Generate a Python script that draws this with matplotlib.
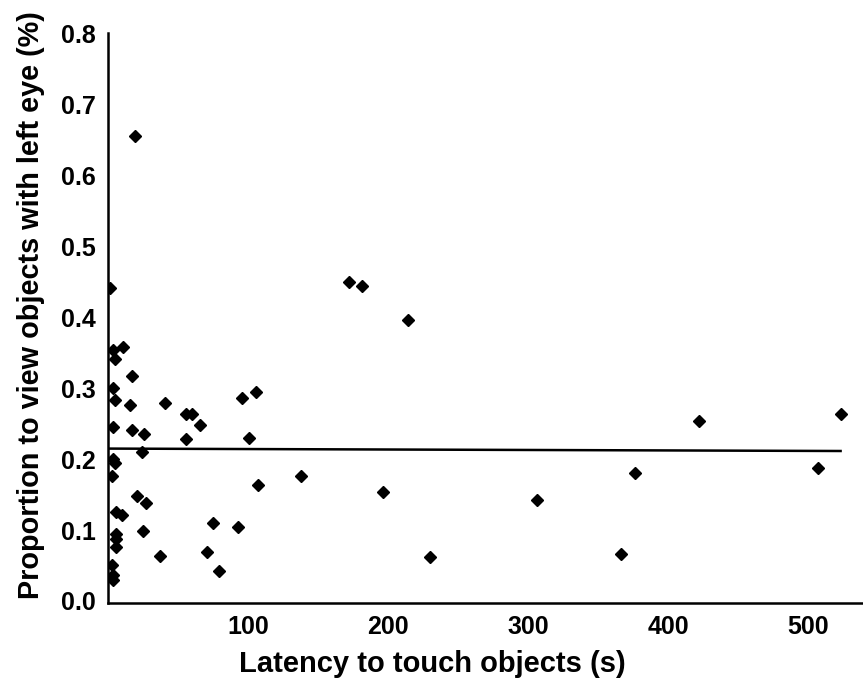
import matplotlib
matplotlib.use("Agg")
import matplotlib.pyplot as plt
import numpy as np

# latency to touch objects (s) vs proportion viewed with left eye
latency = [19, 1.4, 3.8, 11, 5, 17, 3.8, 5, 16, 41, 56, 60, 66, 95.5, 105.5,
           3.8, 17, 26, 56, 100.7, 24, 3.8, 5, 2.6, 107, 20.5, 27, 6, 10, 75,
           93, 25, 5.5, 6, 6, 37, 70.5, 79.5, 2.6, 3.8, 3.8,
           172, 181, 214, 138, 196, 230, 306, 422, 523, 376, 507, 366]
prop_left = [0.656, 0.441, 0.354, 0.358, 0.342, 0.318, 0.300, 0.283, 0.277, 0.280,
             0.264, 0.264, 0.248, 0.286, 0.295, 0.245, 0.241, 0.235, 0.228, 0.230,
             0.210, 0.201, 0.194, 0.177, 0.163, 0.148, 0.138, 0.126, 0.121, 0.110,
             0.104, 0.099, 0.095, 0.088, 0.076, 0.063, 0.069, 0.043, 0.051, 0.037,
             0.030, 0.450, 0.444, 0.397, 0.176, 0.154, 0.062, 0.143, 0.254, 0.264,
             0.181, 0.188, 0.067]

# trend line
fit_intercept = 0.2150
fit_slope = -0.0000065

xticks = [100, 200, 300, 400, 500]
yticks = [0.0, 0.1, 0.2, 0.3, 0.4, 0.5, 0.6, 0.7, 0.8]

fig = plt.figure(figsize=(8.63, 6.93), dpi=100)
ax = fig.add_axes([0.1251, 0.1299, 0.8749, 0.8226])

ax.plot(latency, prop_left, linestyle="none", marker="D", markersize=6.5,
        color="black")

xfit = np.array([0, max(latency)])
ax.plot(xfit, fit_intercept + fit_slope * xfit, color="black", linewidth=1.8)

ax.set_xlim(0, 539)
ax.set_ylim(-0.0028, 0.8014)
ax.set_xticks(xticks)
ax.set_yticks(yticks)
ax.set_yticklabels(["%.1f" % v for v in yticks])

for side in ["top", "right"]:
    ax.spines[side].set_visible(False)
ax.spines["left"].set_linewidth(1.8)
ax.spines["bottom"].set_linewidth(1.8)
ax.tick_params(length=0)
ax.tick_params(axis="y", pad=9)
ax.tick_params(axis="x", pad=9)

for lab in ax.get_yticklabels():
    lab.set_fontfamily("Liberation Sans")
    lab.set_fontweight("bold")
    lab.set_fontsize(18)
for lab in ax.get_xticklabels():
    lab.set_fontfamily("Liberation Sans")
    lab.set_fontweight("bold")
    lab.set_fontsize(18)

ax.set_xlabel("Latency to touch objects (s)", fontsize=21, fontweight="bold",
              family="Liberation Sans")
ax.xaxis.set_label_coords((432 - 108) / 755, -0.083)
ax.set_ylabel("Proportion to view objects with left eye (%)", fontsize=20.8,
              fontweight="bold", family="Liberation Sans")
ax.yaxis.set_label_coords(-0.083, 0.523)

fig.savefig("out.png", dpi=100)
